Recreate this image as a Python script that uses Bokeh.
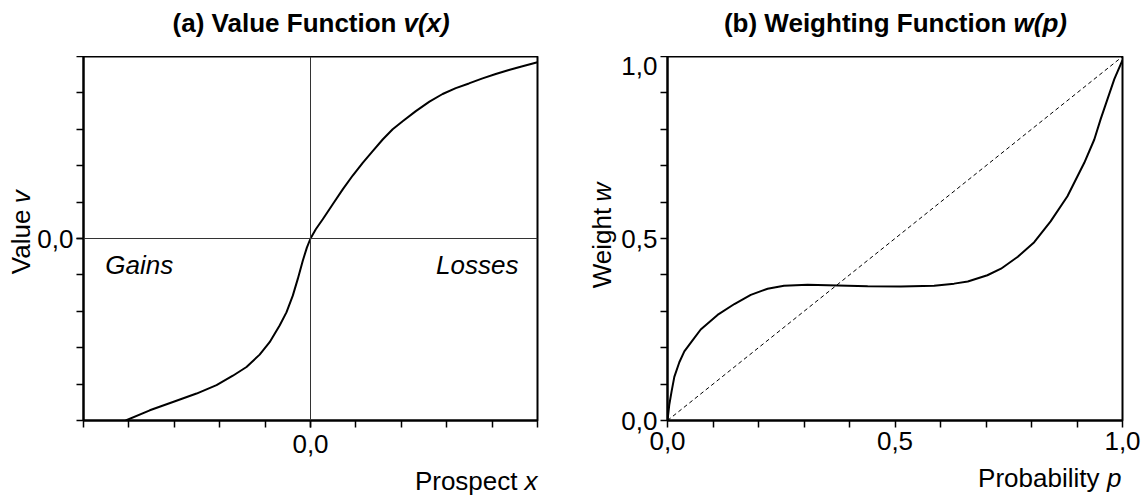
import math
from bokeh.plotting import figure
from bokeh.layouts import row, column
from bokeh.models import (FixedTicker, CustomJSTickFormatter, Span, Label,
                          Range1d)
from bokeh.embed import file_html
from bokeh.resources import INLINE

# ---- data ----
prospect_x = [-4.07, -3.54, -3.03, -2.51, -2.07, -1.71, -1.41, -1.12, -0.90, -0.68,
              -0.53, -0.39, -0.28, -0.17, -0.08, 0.0,
              0.12, 0.27, 0.49, 0.71, 0.93, 1.15, 1.37, 1.59, 1.81, 2.03,
              2.32, 2.62, 2.91, 3.20, 3.49, 3.79, 4.08, 4.37, 4.67, 5.0]
value_v = [-5.0, -4.72, -4.49, -4.26, -4.03, -3.77, -3.53, -3.19, -2.85, -2.39,
           -2.03, -1.57, -1.11, -0.61, -0.25, 0.0,
           0.26, 0.53, 0.94, 1.35, 1.73, 2.08, 2.40, 2.72, 3.0, 3.22,
           3.50, 3.76, 3.97, 4.13, 4.26, 4.40, 4.52, 4.63, 4.73, 4.84]

prob_p = [0.0, 0.004, 0.009, 0.015, 0.026, 0.037, 0.055, 0.073, 0.11, 0.147,
          0.183, 0.22, 0.256, 0.308, 0.374, 0.44, 0.513, 0.586, 0.63, 0.66,
          0.703, 0.733, 0.77, 0.806, 0.842, 0.879, 0.916, 0.938, 0.952, 0.967,
          0.982, 1.0]
weight_w = [0.0, 0.044, 0.08, 0.12, 0.16, 0.19, 0.22, 0.25, 0.29, 0.32,
            0.345, 0.362, 0.37, 0.373, 0.371, 0.369, 0.368, 0.370, 0.376, 0.382,
            0.399, 0.417, 0.45, 0.49, 0.547, 0.616, 0.708, 0.772, 0.828, 0.883,
            0.938, 0.99]
diag_p = [0.0, 1.0]
diag_w = [0.0, 1.0]

left_major = [0.0]
left_minor = [-5, -4, -3, -2, -1, 0, 1, 2, 3, 4, 5]
right_major = [0.0, 0.5, 1.0]
right_minor = [0.1, 0.2, 0.3, 0.4, 0.6, 0.7, 0.8, 0.9]

FONT = "Liberation Sans"
FS = "26px"

TOP = 56          # title strip height
FH = 364          # frame height
BOT = 45          # bottom border of the plots
XL = 495 - TOP - FH - BOT   # x-label strip height

fmt = CustomJSTickFormatter(code="return tick.toFixed(1).replace('.', ',');")


def style_axis(ax, major, minor, standoff):
    ax.ticker = FixedTicker(ticks=major, minor_ticks=minor)
    ax.formatter = fmt
    ax.axis_line_color = "black"
    ax.axis_line_width = 2
    ax.major_tick_line_width = 1.5
    ax.minor_tick_line_width = 1.5
    ax.major_tick_out = 7
    ax.major_tick_in = 0
    ax.minor_tick_out = 7
    ax.minor_tick_in = 0
    ax.major_label_text_font = FONT
    ax.major_label_text_font_size = FS
    ax.major_label_text_color = "black"
    ax.major_label_standoff = standoff


def make_fig(xr, yr, left, fw, right, mj, mn, xstand):
    p = figure(frame_width=fw, frame_height=FH,
               x_range=Range1d(*xr), y_range=Range1d(*yr),
               output_backend="svg", toolbar_location=None,
               min_border_left=left, min_border_right=right,
               min_border_top=0, min_border_bottom=BOT)
    p.grid.visible = False
    p.outline_line_color = "black"
    p.outline_line_width = 2
    p.background_fill_color = "white"
    p.border_fill_color = "white"
    style_axis(p.xaxis[0], mj, mn, xstand)
    style_axis(p.yaxis[0], mj, mn, 3)
    return p


def strip(w, h):
    s = figure(width=w, height=h, x_range=Range1d(0, w), y_range=Range1d(0, h),
               output_backend="svg", toolbar_location=None,
               x_axis_type=None, y_axis_type=None,
               min_border=0, min_border_left=0, min_border_right=0,
               min_border_top=0, min_border_bottom=0)
    s.grid.visible = False
    s.outline_line_color = None
    s.background_fill_color = "white"
    s.border_fill_color = "white"
    return s


def lab(p, x, y, text, align="left", baseline="alphabetic",
        style="normal", angle=0.0):
    p.add_layout(Label(x=x, y=y, text=text,
                       text_align=align, text_baseline=baseline,
                       text_font=FONT, text_font_size=FS,
                       text_font_style=style, text_color="black",
                       angle=angle))


# ---- panel (a) ----
YL1 = 34
p1 = make_fig((-5, 5), (-5, 5), 83 - YL1, 454, 36, left_major, left_minor, 7)
p1.add_layout(Span(location=0, dimension="width", line_color="#333333", line_width=1))
p1.add_layout(Span(location=0, dimension="height", line_color="#333333", line_width=1))
p1.line(prospect_x, value_v, line_color="black", line_width=2)
lab(p1, -4.52, -0.72, "Gains", style="italic")
lab(p1, 4.58, -0.72, "Losses", align="right", style="italic")

# ---- panel (b) ----
YL2 = 44
p2 = make_fig((0, 1), (0, 1), 667 - 573 - YL2, 455, 24, right_major, right_minor, 4)
p2.line(diag_p, diag_w, line_color="black", line_width=1, line_dash="4 3")
p2.line(prob_p, weight_w, line_color="black", line_width=2)

# ---- title strips ----
t1 = strip(573, TOP)
lab(t1, 396, TOP - 22, "(a) Value Function", align="right", style="bold")
lab(t1, 403, TOP - 22, "v(x)", align="left", style="bold italic")
t2 = strip(573, TOP)
lab(t2, 433, TOP - 22, "(b) Weighting Function", align="right", style="bold")
lab(t2, 440, TOP - 22, "w(p)", align="left", style="bold italic")

# ---- y-label strips ----
H2 = FH + BOT
y1 = strip(YL1, H2)
lab(y1, 20, H2 - 172, "Value", align="right", angle=math.pi / 2)
lab(y1, 20, H2 - 165, "v", align="left", style="italic", angle=math.pi / 2)
y2 = strip(YL2, H2)
lab(y2, 28, H2 - 170, "Weight", align="right", angle=math.pi / 2)
lab(y2, 28, H2 - 163, "w", align="left", style="italic", angle=math.pi / 2)

# ---- x-label strips ----
x1 = strip(573, XL)
lab(x1, 537, 15, "x", align="right", style="italic")
lab(x1, 517, 15, "Prospect", align="right")
x2 = strip(573, XL)
lab(x2, 548, 18, "p", align="right", style="italic")
lab(x2, 526, 18, "Probability", align="right")

layout = column(row(t1, t2),
                row(y1, p1, y2, p2),
                row(x1, x2))
open("out.html", "w").write(file_html(layout, INLINE))
